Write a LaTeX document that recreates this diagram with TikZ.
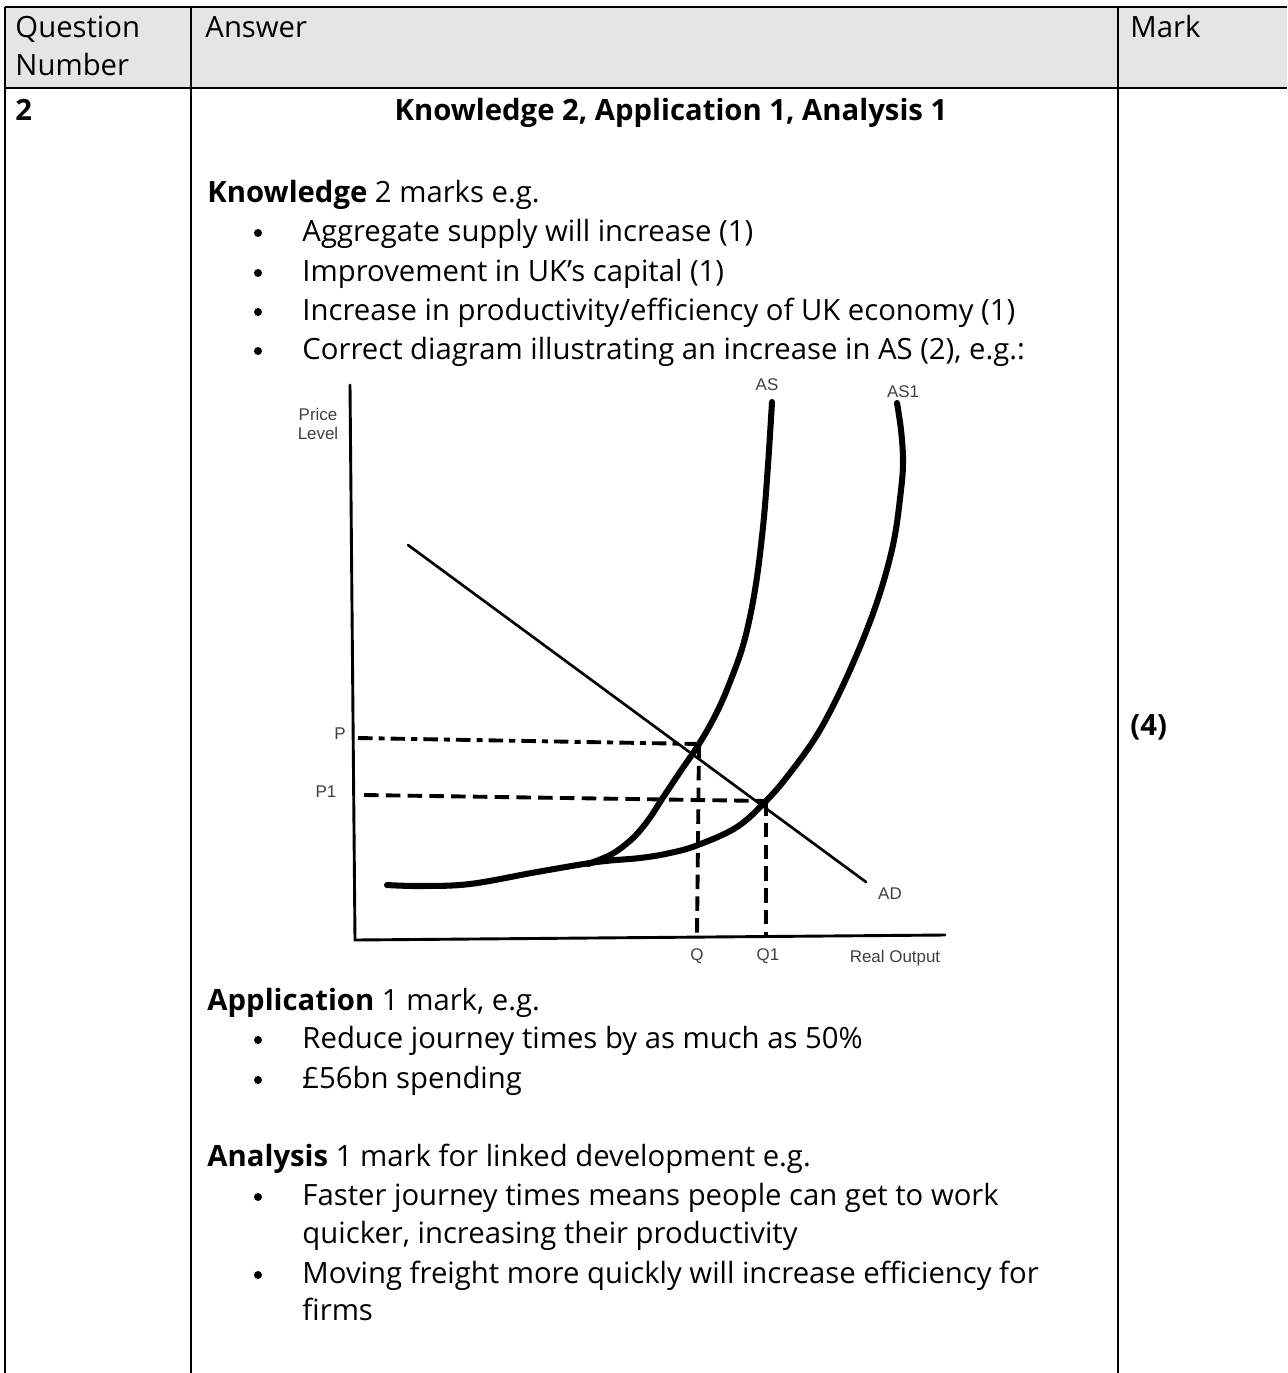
\documentclass[tikz,border=0pt]{standalone}
\usepackage{fontspec}
\setmainfont{Open Sans}
\newfontfamily\graphfont{Liberation Sans}
\usetikzlibrary{positioning}

\tikzstyle{cell} = [anchor=base west, inner sep=0pt, font=\fontsize{12.1}{15}\selectfont]
\tikzstyle{dot} = [circle, fill=black, inner sep=0pt, minimum size=3.3pt]
\tikzstyle{gtext} = [inner sep=0pt, font=\graphfont\fontsize{7}{8.2}\selectfont, text=black!75, align=center]
\tikzstyle{rule} = [line width=1.1pt]
\tikzstyle{axis} = [line width=1.2pt, line cap=round]
\tikzstyle{curve} = [line width=2.5pt, line cap=round, line join=round]
\tikzstyle{guide} = [line width=1.6pt, dash pattern=on 6pt off 3pt]

\begin{document}
\begin{tikzpicture}[x=0.4133pt, y=-0.4133pt]
    \useasboundingbox (0,0) rectangle (1287,1373);
    %table frame
    \fill[black!10] (5,7) rectangle (1287,88);
    \draw[rule] (5,7) -- (1287,7);
    \draw[rule] (5,88) -- (1287,88);
    \draw[rule] (5,7) -- (5,1373);
    \draw[rule] (191,7) -- (191,1373);
    \draw[rule] (1118,7) -- (1118,1373);

    %header
    \node (Question) [cell] at (15,37) {Question};
    \node (Number) [cell] at (15,75) {Number};
    \node (Answer) [cell] at (205,37) {Answer};
    \node (Mark) [cell] at (1130,37) {Mark};

    %body
    \node (Qnum) [cell] at (15,120) {\textbf{2}};
    \node (Title) [cell, anchor=base] at (671,120) {\textbf{Knowledge 2, Application 1, Analysis 1}};
    \node (Score) [cell] at (1130,735) {\textbf{(4)}};

    \node (Knowledge) [cell] at (207,202) {\textbf{Knowledge} 2 marks e.g.};
    \node (K1dot) [dot] at (258,233) {};
    \node (K1) [cell] at (302,241) {Aggregate supply will increase (1)};
    \node (K2dot) [dot] at (258,273) {};
    \node (K2) [cell] at (302,281) {Improvement in UK’s capital (1)};
    \node (K3dot) [dot] at (258,312) {};
    \node (K3) [cell] at (302,320) {Increase in productivity/efficiency of UK economy (1)};
    \node (K4dot) [dot] at (258,351) {};
    \node (K4) [cell] at (302,359) {Correct diagram illustrating an increase in AS (2), e.g.:};

    \node (Application) [cell] at (207,1010) {\textbf{Application} 1 mark, e.g.};
    \node (A1dot) [dot] at (258,1040) {};
    \node (A1) [cell] at (302,1048) {Reduce journey times by as much as 50\%};
    \node (A2dot) [dot] at (258,1080) {};
    \node (A2) [cell] at (302,1088) {£56bn spending};

    \node (Analysis) [cell] at (207,1166) {\textbf{Analysis} 1 mark for linked development e.g.};
    \node (N1dot) [dot] at (258,1197) {};
    \node (N1) [cell] at (302,1205) {Faster journey times means people can get to work};
    \node (N1b) [cell] at (302,1243) {quicker, increasing their productivity};
    \node (N2dot) [dot] at (258,1275) {};
    \node (N2) [cell] at (302,1283) {Moving freight more quickly will increase efficiency for};
    \node (N2b) [cell] at (302,1320) {firms};

    %diagram
    \coordinate (O) at (355,940);
    \coordinate (Ytop) at (350,385);
    \coordinate (Xend) at (945,935);
    \coordinate (E) at (699,744);
    \coordinate (E1) at (766,801);
    \coordinate (ADtop) at (408,545);
    \coordinate (ADend) at (866,882);
    \coordinate (Pstart) at (358,738);
    \coordinate (P1start) at (364,795);
    \coordinate (Qfoot) at (697,935);
    \coordinate (Q1foot) at (766,935);

    \node (Price) [gtext] at (318,424) {Price\\Level};
    \node (AS) [gtext] at (767,385) {AS};
    \node (AS1) [gtext] at (903,392) {AS1};
    \node (AD) [gtext] at (890,894) {AD};
    \node (P) [gtext] at (340,734) {P};
    \node (P1) [gtext] at (326,792) {P1};
    \node (Q) [gtext] at (697,956) {Q};
    \node (Q1) [gtext] at (768,956) {Q1};
    \node (Real) [gtext] at (895,958) {Real Output};

    \draw[axis] (Ytop) -- (O) -- (Xend);
    \draw[axis, line width=1.1pt] (ADtop) -- (ADend);
    \draw[guide, dash pattern=on 6pt off 2.5pt on 2.5pt off 2.5pt] (Pstart) -- (E);
    \draw[guide] (P1start) -- (E1);
    \draw[guide] (E) -- (Qfoot);
    \draw[guide] (E1) -- (Q1foot);
    \draw[curve] plot[smooth, tension=0.6] coordinates {(588,864) (612,854) (633,838) (649,819) (662,799) (680,772) (699,744) (716,714) (730,682) (744,642) (755,590) (763,527) (768,465) (772,402)};
    \draw[curve] plot[smooth, tension=0.6] coordinates {(387,885) (420,886) (470,884) (537,872) (597,862) (640,858) (670,853) (698,845) (737,827) (766,801) (790,773) (820,730) (850,670) (876,605) (893,545) (901,490) (903,460) (901,430) (897,403)};
\end{tikzpicture}
\end{document}
